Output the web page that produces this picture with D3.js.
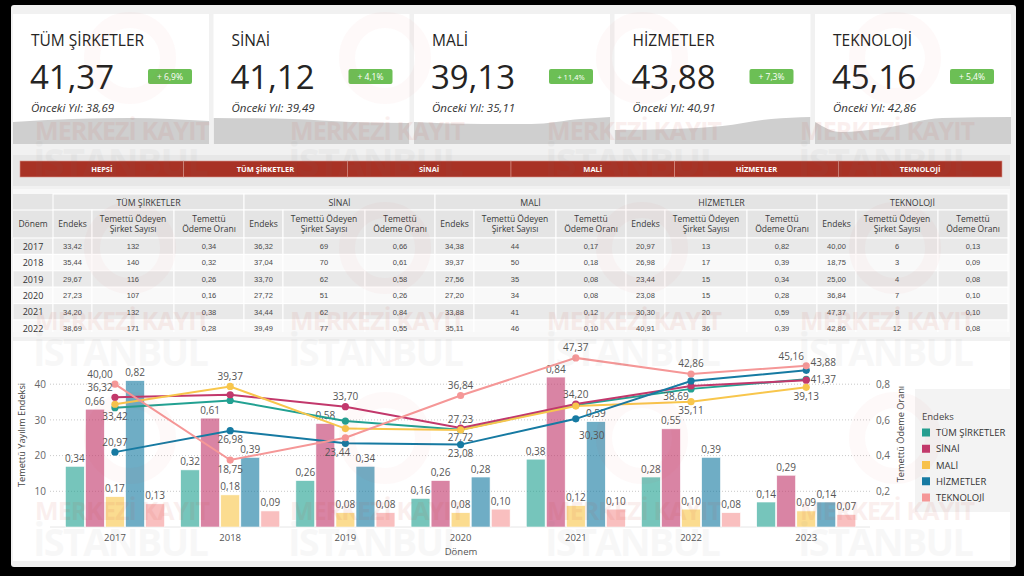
<!DOCTYPE html>
<html><head><meta charset="utf-8">
<script src="https://cdn.jsdelivr.net/npm/d3@7"></script>
<style>
html,body{margin:0;padding:0;background:#000;}
svg{display:block;font-family:"Open Sans",sans-serif;}
</style></head><body>
<svg id="c" width="1024" height="576"></svg>
<script>
// ---------------- DATA ----------------
const years = ["2017","2018","2019","2020","2021","2022","2023"];
const seriesNames = ["TÜM ŞİRKETLER","SİNAİ","MALİ","HİZMETLER","TEKNOLOJİ"];
const navLabels = ["HEPSİ","TÜM ŞİRKETLER","SİNAİ","MALİ","HİZMETLER","TEKNOLOJİ"];
const seriesColors = ["#22a192","#c2386c","#f8c64c","#167aa2","#f59797"];

const endeksTum = [33.42, 35.44, 29.67, 27.23, 34.20, 38.69, 41.37];
const endeksSinai = [36.32, 37.04, 33.70, 27.72, 34.44, 39.49, 41.12];
const endeksMali = [34.38, 39.37, 27.56, 27.20, 33.88, 35.11, 39.13];
const endeksHizmet = [20.97, 26.98, 23.44, 23.08, 30.30, 40.91, 43.88];
const endeksTekno = [40.00, 18.75, 25.00, 36.84, 47.37, 42.86, 45.16];

const oranTum = [0.34, 0.32, 0.26, 0.16, 0.38, 0.28, 0.14];
const oranSinai = [0.66, 0.61, 0.58, 0.26, 0.84, 0.55, 0.29];
const oranMali = [0.17, 0.18, 0.08, 0.08, 0.12, 0.10, 0.09];
const oranHizmet = [0.82, 0.39, 0.34, 0.28, 0.59, 0.39, 0.14];
const oranTekno = [0.13, 0.09, 0.08, 0.10, 0.10, 0.08, 0.07];

const sayiTum = [132, 140, 116, 107, 132, 171, null];
const sayiSinai = [69, 70, 62, 51, 62, 77, null];
const sayiMali = [44, 50, 35, 34, 41, 46, null];
const sayiHizmet = [13, 17, 15, 15, 20, 36, null];
const sayiTekno = [6, 3, 4, 7, 9, 12, null];

const leftTicks = [10, 20, 30, 40];
const rightTicks = [0.2, 0.4, 0.6, 0.8];

const endeksAll = [endeksTum, endeksSinai, endeksMali, endeksHizmet, endeksTekno];
const oranAll = [oranTum, oranSinai, oranMali, oranHizmet, oranTekno];
const sayiAll = [sayiTum, sayiSinai, sayiMali, sayiHizmet, sayiTekno];

// label placement of line labels (which labels Power BI shows, and where)
const linePlacement = [
  ["b", null, null, "a", "a", "bl", "r"],
  ["al", null, "a", "b", null, null, null],
  [null, "a", null, null, null, "b", "b"],
  ["a", "b", "bw", "b", "br", null, "ar"],
  ["al", "b", null, "a", "a", "a", "al"]
];
const placeOffsets = {
  a: [0, -6.5], b: [0, 12.5], bw: [-8, 12.5], al: [-15, -6], ar: [17, -4.5],
  r: [17, 3.5], bl: [-15, 11.5], br: [16, 20.5]
};

// ---------------- HELPERS ----------------
const fmt2 = v => d3.format(".2f")(v).replace(".", ",");
const fmt1 = v => d3.format(".1f")(v).replace(".", ",");
const svg = d3.select("#c");

// frame
svg.append("rect").attr("width", 1024).attr("height", 576).attr("fill", "#000");
svg.append("rect").attr("x", 11).attr("y", 5).attr("width", 1005).attr("height", 562)
  .attr("rx", 3).attr("fill", "#f1f1f1");

// ---------------- KPI CARDS ----------------
const cardW = 196, cardH = 130, cardY = 14;
const cardXs = d3.range(5).map(i => 13 + i * 200.5);
const waveShapes = [
  [[0,122],[0.3,119],[0.6,118],[1,121]],
  [[0,118],[0.4,119],[0.7,122],[1,123]],
  [[0,122],[0.35,124],[0.6,124],[0.85,119],[1,117]],
  [[0,130],[0.3,129],[0.55,126],[0.8,119],[1,117]],
  [[0,122],[0.13,132],[0.35,128],[0.65,118],[1,117]]
];
const defs = svg.append("defs");
cardXs.forEach((cx, i) => {
  defs.append("clipPath").attr("id", "cc" + i).append("rect")
    .attr("x", cx).attr("y", cardY).attr("width", cardW).attr("height", cardH);
  const g = svg.append("g");
  g.append("rect").attr("x", cx).attr("y", cardY).attr("width", cardW).attr("height", cardH).attr("fill", "#fff");
  const area = d3.area().curve(d3.curveMonotoneX)
    .x(d => cx + d[0] * cardW).y1(d => d[1]).y0(cardY + cardH);
  g.append("path").attr("d", area(waveShapes[i])).attr("fill", "#cfcfcf").attr("clip-path", "url(#cc" + i + ")");
  const ser = endeksAll[i];
  const cur = ser[ser.length - 1], prev = ser[ser.length - 2];
  const chg = (cur / prev - 1) * 100;
  g.append("text").attr("x", cx + 18).attr("y", 46).attr("font-size", 15.5).attr("fill", "#252423").text(seriesNames[i]);
  g.append("text").attr("x", cx + 17).attr("y", 89).attr("font-size", 33).attr("fill", "#252423").text(fmt2(cur));
  g.append("rect").attr("x", cx + 135).attr("y", 69).attr("width", 44).attr("height", 15).attr("rx", 2).attr("fill", "#6cbf55");
  const bt = "+ " + fmt1(chg) + "%";
  g.append("text").attr("x", cx + 157).attr("y", 79.5).attr("text-anchor", "middle")
    .attr("font-size", bt.length > 6 ? 7.5 : 8.5).attr("fill", "#fff").text(bt);
  g.append("text").attr("x", cx + 18).attr("y", 112).attr("font-size", 11.5).attr("font-style", "italic")
    .attr("fill", "#333").text("Önceki Yıl: " + fmt2(prev));
});

// ---------------- NAV BAR ----------------
svg.append("rect").attr("x", 13).attr("y", 155).attr("width", 997).attr("height", 31).attr("fill", "#e7e7e7");
const navX = d3.scaleBand().domain(navLabels).range([20, 1002]);
const nav = svg.append("g");
nav.selectAll("rect").data(navLabels).join("rect")
  .attr("x", d => navX(d)).attr("y", 161).attr("width", navX.bandwidth()).attr("height", 16)
  .attr("fill", "#a83225").attr("stroke", "#d8938a").attr("stroke-width", 0.6);
nav.selectAll("text").data(navLabels).join("text")
  .attr("x", d => navX(d) + navX.bandwidth() / 2).attr("y", 171.8).attr("text-anchor", "middle")
  .attr("font-size", 7.5).attr("font-weight", "bold").attr("fill", "#fff").text(d => d);

// ---------------- TABLE ----------------
svg.append("rect").attr("x", 13).attr("y", 189).attr("width", 997).attr("height", 148).attr("fill", "#f8f8f8");
defs.append("clipPath").attr("id", "tclip").append("rect").attr("x", 13).attr("y", 190).attr("width", 997).attr("height", 142);
const tbl = svg.append("g").attr("clip-path", "url(#tclip)");
const colW = [39, 82, 70];
const col0 = 13, donemW = 40, groupW = d3.sum(colW);
const rowY0 = 194, grpH = 16, subH = 28, rowH = 16.4;
const dataY0 = rowY0 + grpH + subH;
tbl.append("rect").attr("x", col0).attr("y", rowY0).attr("width", donemW).attr("height", grpH + subH)
  .attr("fill", "#e4e4e4");
tbl.append("line").attr("x1", col0).attr("x2", col0 + donemW).attr("y1", rowY0 + grpH).attr("y2", rowY0 + grpH)
  .attr("stroke", "#fff");
tbl.append("text").attr("x", col0 + donemW / 2).attr("y", rowY0 + grpH + subH / 2 + 3)
  .attr("text-anchor", "middle").attr("font-size", 8.5).attr("fill", "#3a3a3a").text("Dönem");
const subLabels = [["Endeks"], ["Temettü Ödeyen", "Şirket Sayısı"], ["Temettü", "Ödeme Oranı"]];
seriesNames.forEach((s, gi) => {
  const gx = col0 + donemW + gi * groupW;
  tbl.append("rect").attr("x", gx).attr("y", rowY0).attr("width", groupW).attr("height", grpH)
    .attr("fill", "#e4e4e4").attr("stroke", "#fff");
  tbl.append("text").attr("x", gx + groupW / 2).attr("y", rowY0 + 11.5).attr("text-anchor", "middle")
    .attr("font-size", 8.8).attr("fill", "#3a3a3a").text(s);
  let cx = gx;
  colW.forEach((w, ci) => {
    tbl.append("rect").attr("x", cx).attr("y", rowY0 + grpH).attr("width", w).attr("height", subH)
      .attr("fill", "#e4e4e4").attr("stroke", "#fff");
    const lines = subLabels[ci];
    lines.forEach((ln, li) => {
      tbl.append("text").attr("x", cx + w / 2)
        .attr("y", rowY0 + grpH + (lines.length === 1 ? 17 : 12 + li * 10))
        .attr("text-anchor", "middle").attr("font-size", 8.5).attr("fill", "#3a3a3a").text(ln);
    });
    cx += w;
  });
});
const tableYears = years.slice(0, 6);
tableYears.forEach((yr, ri) => {
  const ry = dataY0 + ri * rowH;
  const bg = ri % 2 === 0 ? "#e9e9e9" : "#f9f9f9";
  tbl.append("rect").attr("x", col0).attr("y", ry).attr("width", donemW).attr("height", rowH)
    .attr("fill", bg).attr("stroke", "#fff");
  tbl.append("text").attr("x", col0 + donemW / 2).attr("y", ry + rowH / 2 + 3.5).attr("text-anchor", "middle")
    .attr("font-size", 9).attr("fill", "#333").text(yr);
  seriesNames.forEach((s, gi) => {
    const vals = [fmt2(endeksAll[gi][ri]), String(sayiAll[gi][ri]), fmt2(oranAll[gi][ri])];
    let cx = col0 + donemW + gi * groupW;
    colW.forEach((w, ci) => {
      tbl.append("rect").attr("x", cx).attr("y", ry).attr("width", w).attr("height", rowH)
        .attr("fill", bg).attr("stroke", "#fff");
      tbl.append("text").attr("x", cx + w / 2).attr("y", ry + rowH / 2 + 2.8).attr("text-anchor", "middle")
        .attr("font-family", "Liberation Sans, Arial, sans-serif")
        .attr("font-size", 7.5).attr("fill", "#4a4a4a").text(vals[ci]);
      cx += w;
    });
  });
});

// ---------------- CHART ----------------
svg.append("rect").attr("x", 13).attr("y", 341).attr("width", 997).attr("height", 220).attr("fill", "#fff");
const x0 = d3.scaleBand().domain(years).range([49.3, 871.9]).paddingInner(0.14).paddingOuter(0.14);
const x1 = d3.scaleBand().domain(seriesNames).range([0, x0.bandwidth()]).paddingInner(0.06);
const yL = d3.scaleLinear().domain([0, 50]).range([527, 348.5]);
const yR = d3.scaleLinear().domain([0, 1]).range([527, 348.5]);
const chart = svg.append("g");

chart.selectAll("line.grid").data(leftTicks).join("line").attr("class", "grid")
  .attr("x1", 50).attr("x2", 870).attr("y1", d => yL(d)).attr("y2", d => yL(d))
  .attr("stroke", "#c9c9c9").attr("stroke-dasharray", "1,2");
chart.append("line").attr("x1", 50).attr("x2", 870).attr("y1", yL(0)).attr("y2", yL(0)).attr("stroke", "#e6e6e6");

const axL = chart.append("g").attr("transform", "translate(50,0)")
  .call(d3.axisLeft(yL).tickValues(leftTicks).tickSize(0).tickPadding(4));
const axR = chart.append("g").attr("transform", "translate(872,0)")
  .call(d3.axisRight(yR).tickValues(rightTicks).tickSize(0).tickPadding(4)
    .tickFormat(d => String(d).replace(".", ",")));
const axB = chart.append("g").attr("transform", "translate(0," + yL(0) + ")")
  .call(d3.axisBottom(x0).tickSize(0).tickPadding(7));
[axL, axR, axB].forEach(a => {
  a.select(".domain").remove();
  a.selectAll("text").attr("font-family", "Open Sans, sans-serif").attr("font-size", 10).attr("fill", "#666");
});
axB.selectAll("text").attr("fill", "#555").attr("font-size", 9.5);

chart.append("text").attr("transform", "translate(25,435) rotate(-90)").attr("text-anchor", "middle")
  .attr("font-size", 9.2).attr("fill", "#444").text("Temettü Yayılım Endeksi");
chart.append("text").attr("transform", "translate(904,434) rotate(-90)").attr("text-anchor", "middle")
  .attr("font-size", 9.2).attr("fill", "#444").text("Temettü Ödeme Oranı");
chart.append("text").attr("x", 461).attr("y", 555).attr("text-anchor", "middle")
  .attr("font-size", 9.5).attr("fill", "#555").text("Dönem");

const barData = [];
seriesNames.forEach((s, si) => years.forEach((yr, yi) => barData.push({ s, si, yr, v: oranAll[si][yi] })));
chart.selectAll("rect.bar").data(barData).join("rect").attr("class", "bar")
  .attr("x", d => x0(d.yr) + x1(d.s)).attr("width", x1.bandwidth())
  .attr("y", d => yR(d.v)).attr("height", d => yR(0) - yR(d.v))
  .attr("fill", d => seriesColors[d.si]).attr("fill-opacity", 0.62)
  .attr("stroke", "#fff").attr("stroke-width", 0.6);
chart.selectAll("text.barlab").data(barData).join("text").attr("class", "barlab")
  .attr("x", d => x0(d.yr) + x1(d.s) + x1.bandwidth() / 2).attr("y", d => yR(d.v) - 4.5)
  .attr("text-anchor", "middle").attr("font-size", 10).attr("fill", "#555").text(d => fmt2(d.v));

const cx = yr => x0(yr) + x0.bandwidth() / 2;
const lineGen = d3.line().x((d, i) => cx(years[i])).y(d => yL(d));
seriesNames.forEach((s, si) => {
  chart.append("path").attr("d", lineGen(endeksAll[si])).attr("fill", "none")
    .attr("stroke", seriesColors[si]).attr("stroke-width", 2);
});
seriesNames.forEach((s, si) => {
  chart.selectAll("circle.m" + si).data(endeksAll[si]).join("circle").attr("class", "m" + si)
    .attr("cx", (d, i) => cx(years[i])).attr("cy", d => yL(d)).attr("r", 3.6)
    .attr("fill", seriesColors[si]);
});
seriesNames.forEach((s, si) => {
  endeksAll[si].forEach((v, i) => {
    const p = linePlacement[si][i];
    if (!p) return;
    const o = placeOffsets[p];
    chart.append("text").attr("x", cx(years[i]) + o[0]).attr("y", yL(v) + o[1])
      .attr("text-anchor", "middle").attr("font-size", 10).attr("fill", "#555").text(fmt2(v));
  });
});

const lg = svg.append("g");
lg.append("rect").attr("x", 915).attr("y", 389).attr("width", 95).attr("height", 123).attr("fill", "#f3f3f3");
lg.append("text").attr("x", 922).attr("y", 419.5).attr("font-size", 9.5).attr("fill", "#444").text("Endeks");
const legY = d3.scalePoint().domain(seriesNames).range([432.5, 497.5]);
lg.selectAll("rect.lk").data(seriesNames).join("rect").attr("class", "lk")
  .attr("x", 922).attr("y", d => legY(d) - 4).attr("width", 8).attr("height", 8)
  .attr("fill", (d, i) => seriesColors[i]);
lg.selectAll("text.lt").data(seriesNames).join("text").attr("class", "lt")
  .attr("x", 936).attr("y", d => legY(d) + 3.5).attr("font-size", 9.5).attr("fill", "#333").text(d => d);

// ---------------- WATERMARK ----------------
const wm = svg.append("g").attr("pointer-events", "none");
const wmX = [35, 290, 547, 800];
const wmRows = [0, 190, 380];
wmRows.forEach(dy => {
  wmX.forEach(wx => {
    wm.append("circle").attr("cx", wx + 95).attr("cy", 58 + dy).attr("r", 38)
      .attr("fill", "none").attr("stroke", "#d04030").attr("stroke-width", 16).attr("opacity", 0.03);
    wm.append("text").attr("x", wx).attr("y", 140 + dy).attr("font-size", 25).attr("font-weight", "bold")
      .attr("textLength", 175).attr("fill", "#c83a2c").attr("opacity", 0.075).text("MERKEZİ KAYIT");
    wm.append("text").attr("x", wx - 2).attr("y", 176 + dy).attr("font-size", 38).attr("font-weight", "bold")
      .attr("textLength", 176).attr("fill", "#777").attr("opacity", 0.05).text("İSTANBUL");
  });
});
</script>
</body></html>
